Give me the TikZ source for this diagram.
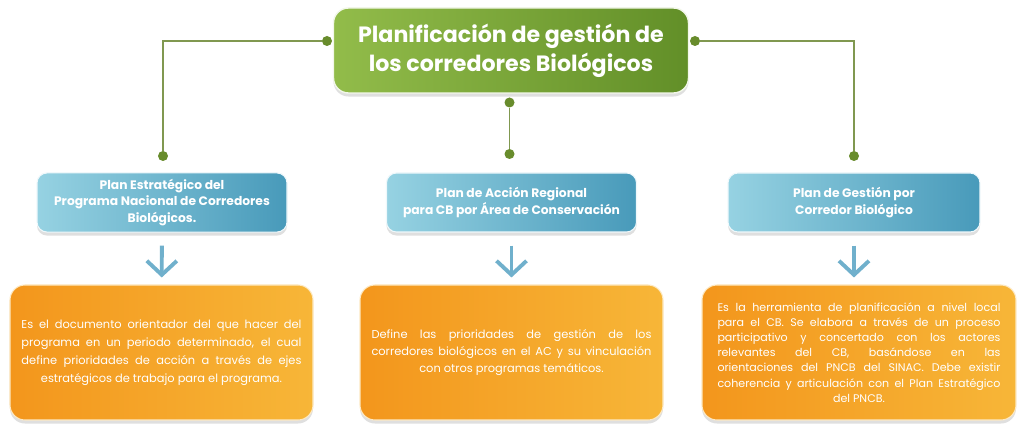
\documentclass[tikz,border=0pt]{standalone}
\usepackage{fontspec}
\setmainfont{Poppins}
\usetikzlibrary{arrows.meta,shadows}
\definecolor{verdeA}{RGB}{146,188,74}
\definecolor{verdeB}{RGB}{98,143,40}
\definecolor{azulA}{RGB}{150,210,226}
\definecolor{azulB}{RGB}{72,154,186}
\definecolor{naranjaA}{RGB}{243,150,28}
\definecolor{naranjaB}{RGB}{247,182,56}
\definecolor{linea}{RGB}{128,152,80}
\definecolor{punto}{RGB}{104,140,44}
\definecolor{flecha}{RGB}{112,176,204}
\newcommand{\ultimacentrada}{\leftskip=0pt plus 1fil\rightskip=0pt plus -1fil\parfillskip=0pt plus 2fil\parindent=0pt\hyphenpenalty=10000\exhyphenpenalty=10000}
\tikzset{
  titulobox/.style={rounded corners=0.3cm,minimum width=7.1cm,minimum height=1.7cm,left color=verdeA,right color=verdeB,draw=white!88!verdeA,line width=0.8pt,drop shadow={opacity=0.25,shadow xshift=0pt,shadow yshift=-2pt},text=white,align=center,font=\fontsize{12.6}{16.5}\selectfont\bfseries},
  planbox/.style={rounded corners=0.2cm,minimum width=5cm,minimum height=1.18cm,left color=azulA,right color=azulB,draw=white!85!azulA,line width=0.6pt,drop shadow={opacity=0.25,shadow xshift=0pt,shadow yshift=-2pt},text=white,align=center,font=\fontsize{7}{9.6}\selectfont\bfseries},
  textobox/.style={rounded corners=0.3cm,minimum width=6.06cm,minimum height=2.7cm,left color=naranjaA,right color=naranjaB,draw=white!70!naranjaB,line width=0.6pt,drop shadow={opacity=0.25,shadow xshift=0pt,shadow yshift=-2pt},text=white,text width=5.6cm,align=justify,font=\fontsize{6.5}{10.2}\selectfont},
  punto/.style={circle,fill=punto,minimum size=0.2cm,inner sep=0pt},
  enlace/.style={linea,line width=1.1pt},
  bajada/.style={flecha,line width=2.2pt,-{Straight Barb[length=0.28cm,width=0.6cm,line width=2.2pt]},shorten <=0.26cm,shorten >=0.14cm}
}
\begin{document}
\begin{tikzpicture}
\useasboundingbox[fill=white] (0,0) rectangle (20.48,8.8);
% draw title
\node[titulobox] (titulo) at (10.22,7.79) {Planificación de gestión de\\los corredores Biológicos};
% draw dots
\node[punto] (pi) at (6.54,7.98) {};
\node[punto] (pd) at (13.9,7.98) {};
\node[punto] (pc) at (10.19,6.75) {};
\node[punto] (bi) at (3.26,5.68) {};
\node[punto] (bc) at (10.19,5.72) {};
\node[punto] (bd) at (17.08,5.68) {};
% draw connectors
\draw[enlace] (pi) -| (bi);
\draw[enlace] (pd) -| (bd);
\draw[enlace] (pc) -- (bc);
% draw plans
\node[planbox] (plan1) at (3.24,4.75) {Plan Estratégico del\\Programa Nacional de Corredores\\Biológicos.};
\node[planbox] (plan2) at (10.23,4.75) {Plan de Acción Regional\\para CB por Área de Conservación};
\node[planbox,minimum width=5.04cm] (plan3) at (17.08,4.75) {Plan de Gestión por\\Corredor Biológico};
% draw descriptions
\node[textobox] (desc1) at (3.23,1.75) {\ultimacentrada Es el documento orientador del que hacer del\linebreak programa en un periodo determinado, el cual\linebreak define prioridades de acción a través de ejes\linebreak estratégicos de trabajo para el programa.\par};
\node[textobox,font=\fontsize{6.5}{9.7}\selectfont] (desc2) at (10.23,1.75) {\ultimacentrada Define las prioridades de gestión de los\linebreak corredores biológicos en el AC y su vinculación\linebreak con otros programas temáticos.\par};
\node[textobox,minimum width=6.28cm,text width=5.66cm,font=\fontsize{6.3}{8.6}\selectfont] (desc3) at (17.18,1.75) {\ultimacentrada Es la herramienta de planificación a nivel local\linebreak para el CB. Se elabora a través de un proceso\linebreak participativo y concertado con los actores\linebreak relevantes del CB, basándose en las\linebreak orientaciones del PNCB del SINAC. Debe existir\linebreak coherencia y articulación con el Plan Estratégico\linebreak del PNCB.\par};
% draw arrows
\draw[bajada] (plan1) -- (desc1);
\draw[bajada] (plan2) -- (desc2);
\draw[bajada] (plan3) -- (plan3 |- desc3.north);
\end{tikzpicture}
\end{document}
